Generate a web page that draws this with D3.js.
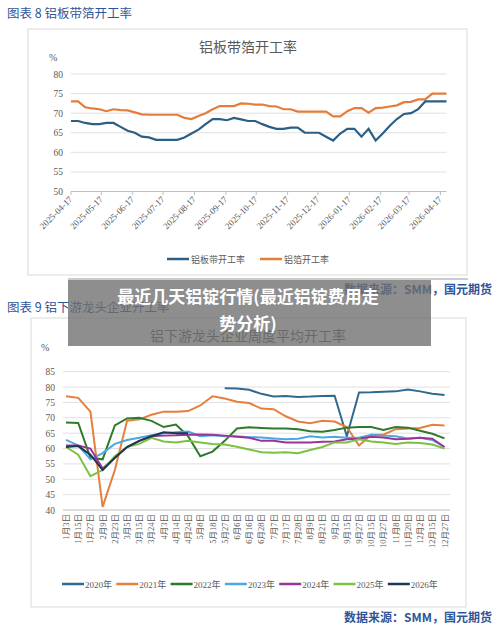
<!DOCTYPE html>
<html><head><meta charset="utf-8">
<script src="https://cdn.jsdelivr.net/npm/d3@7"></script>
<style>body{margin:0;background:#fff}text{font-family:"Liberation Serif","Noto Sans CJK SC",serif}text.sans{font-family:"Noto Sans CJK SC",sans-serif}</style>
</head><body>
<svg id="c" width="500" height="625"></svg>
<script>
// top chart data: weekly from 2025-04-17
var topStart = new Date(2025, 3, 17);
var banDai = [68,68,67.5,67.2,67.2,67.5,67.5,66.5,65.5,65,64,63.8,63.2,63.2,63.2,63.2,63.8,64.8,65.8,67.2,68.5,68.5,68.2,68.8,68.4,68,68,67.2,66.5,66,66,66.3,66.3,65,65,65,64,63,64.8,66,66,64,66,63,64.8,66.8,68.5,69.8,70,71,73,73,73,73];
var boXiang = [73,73,71.5,71.2,71,70.5,71,70.8,70.7,70.2,69.7,69.6,69.6,69.6,69.6,69.6,68.8,68.5,69.3,70,71,71.8,71.8,71.8,72.5,72.4,72.2,72.2,71.8,71.7,71,71,70.4,70.4,70.4,70.4,70.4,69.2,69.2,70.5,71.3,71.3,70.1,71.3,71.4,71.7,72,72.8,72.9,73.5,73.5,75,75,75];
var topTicks = ["2025-04-17","2025-05-17","2025-06-17","2025-07-17","2025-08-17","2025-09-17","2025-10-17","2025-11-17","2025-12-17","2026-01-17","2026-02-17","2026-03-17","2026-04-17"];

// bottom chart
var weeks = ["1月3日","1月15日","1月27日","2月9日","2月23日","3月5日","3月15日","3月24日","4月3日","4月14日","4月24日","5月8日","5月18日","5月27日","6月6日","6月16日","6月28日","7月7日","7月17日","7月28日","8月9日","8月21日","9月2日","9月15日","9月27日","10月15日","10月27日","11月8日","11月20日","12月2日","12月15日","12月27日"];
var N = null;
var y2020 = [N,N,N,N,N,N,N,N,N,N,N,N,N,79.6,79.5,79.1,77.8,76.9,77.1,76.8,76.9,77.1,77.2,64,78.2,78.3,78.5,78.6,79.2,78.6,77.8,77.4];
var y2021 = [77,76.5,72,41,53,69,69.5,71,72,72,72.2,74,77,76.3,75.2,74.8,73,72.8,70.5,68.8,68.2,69,68.8,67,61,64.5,64.5,66.3,66.5,66.7,67.7,67.5];
var y2022 = [68.5,68.3,57,56.5,67.5,69.8,70,69,67,67.8,64,57.5,59,62.5,66.5,66.9,66.7,66.5,66.5,66.3,65.6,65.5,66,66.8,67,67,66,67,66.8,65.8,64.8,63.3];
var y2023 = [62.8,61,56.5,58.5,61.5,62.8,63.5,64.3,65,65.3,65.5,64,64.3,64,64,63.7,63.6,63.3,63,63.2,64,63.6,63.8,63.5,63.5,64.5,64.2,64,63.3,63.5,62.8,60.5];
var y2024 = [61,61,60,53.5,57,60.5,62.5,64,64.2,64.3,64.5,64.6,64.5,64.2,63.8,63.5,62.5,62.5,62,62,62,62.2,62.3,63,63.2,63.8,63.6,63,63.2,63.5,63.2,60.5];
var y2025 = [60.5,58,51,53,57.5,60.5,61.5,63.5,62.3,62,62.5,62,61.5,61.3,60.6,59.7,58.8,58.6,58.8,58.5,59.5,60.5,62,62,63,62.3,62,61.5,62,61.8,61.3,60];
var y2026 = [60.5,60.8,58,53,57,60.5,62.5,64,65.3,65,65,N,N,N,N,N,N,N,N,N,N,N,N,N,N,N,N,N,N,N,N,N];
var years = ["2020年","2021年","2022年","2023年","2024年","2025年","2026年"];
var colors = ["#2e6a8f","#e67e3c","#2e7a2c","#4aa8e2","#9b349a","#7cc242","#1d3652"];
var series = [y2020,y2021,y2022,y2023,y2024,y2025,y2026];

var svg = d3.select("#c");
var blue = "#2f5597";

// ---- top chart ----
svg.append("text").attr("class","sans").attr("x",7).attr("y",18).attr("fill",blue).attr("font-size",12.5).text("图表 8 铝板带箔开工率");
svg.append("rect").attr("x",28).attr("y",29).attr("width",439).attr("height",246).attr("fill","none").attr("stroke","#d9d9d9");
svg.append("text").attr("x",248).attr("y",52).attr("text-anchor","middle").attr("font-size",14).attr("fill","#595959").text("铝板带箔开工率");
svg.append("text").attr("x",49).attr("y",61).attr("font-size",10).attr("fill","#595959").text("%");

var x1 = d3.scaleTime().domain([topStart, d3.timeWeek.offset(topStart, banDai.length-1)]).range([71,446.5]);
var y1 = d3.scaleLinear().domain([50,80]).range([191.5,74]);
var g1 = svg.append("g");
y1.ticks(6).forEach(function(t){
  g1.append("line").attr("x1",71).attr("x2",446.5).attr("y1",y1(t)).attr("y2",y1(t)).attr("stroke",t==50?"#bfbfbf":"#e0e0e0");
  g1.append("text").attr("x",63).attr("y",y1(t)+3.5).attr("text-anchor","end").attr("font-size",9.5).attr("fill","#595959").text(t);
});
topTicks.forEach(function(s){
  var p = s.split("-"), d = new Date(+p[0], +p[1]-1, +p[2]), xx = x1(d);
  g1.append("line").attr("x1",xx).attr("x2",xx).attr("y1",191.5).attr("y2",195).attr("stroke","#bfbfbf");
  g1.append("text").attr("transform","translate("+(xx+2)+",200) rotate(-45)").attr("text-anchor","end").attr("font-size",9).attr("fill","#595959").text(s);
});
var line1 = d3.line().x(function(d,i){return x1(d3.timeWeek.offset(topStart,i));}).y(function(d){return y1(d);});
g1.append("path").datum(boXiang).attr("d",line1).attr("fill","none").attr("stroke","#e47d3a").attr("stroke-width",2.2);
g1.append("path").datum(banDai).attr("d",line1).attr("fill","none").attr("stroke","#2b5f86").attr("stroke-width",2.2);
[["铝板带开工率","#2b5f86",167],["铝箔开工率","#e47d3a",260]].forEach(function(l){
  g1.append("line").attr("x1",l[2]).attr("x2",l[2]+22).attr("y1",259).attr("y2",259).attr("stroke",l[1]).attr("stroke-width",2.5);
  g1.append("text").attr("x",l[2]+24).attr("y",263).attr("font-size",9).attr("fill","#595959").text(l[0]);
});
svg.append("line").attr("x1",68).attr("x2",468).attr("y1",279).attr("y2",279).attr("stroke","#999");
svg.append("text").attr("class","sans").attr("x",492).attr("y",294).attr("text-anchor","end").attr("fill",blue).attr("font-size",12).attr("font-weight","bold").text("数据来源：SMM，国元期货");

// ---- bottom chart ----
svg.append("text").attr("class","sans").attr("x",7).attr("y",312).attr("fill",blue).attr("font-size",12.5).text("图表 9 铝下游龙头企业开工率");
svg.append("rect").attr("x",31).attr("y",318).attr("width",435).attr("height",289).attr("fill","none").attr("stroke","#d9d9d9");
svg.append("text").attr("x",248).attr("y",341).attr("text-anchor","middle").attr("font-size",14).attr("fill","#595959").text("铝下游龙头企业周度平均开工率");
svg.append("text").attr("x",41).attr("y",351).attr("font-size",10).attr("fill","#595959").text("%");

var x2 = d3.scalePoint().domain(weeks).range([66,444.5]);
var y2 = d3.scaleLinear().domain([40,85]).range([510,371.7]);
var g2 = svg.append("g");
d3.range(40,86,5).forEach(function(t){
  g2.append("line").attr("x1",63).attr("x2",450).attr("y1",y2(t)).attr("y2",y2(t)).attr("stroke",t==40?"#bfbfbf":"#e0e0e0");
  g2.append("text").attr("x",55).attr("y",y2(t)+3.5).attr("text-anchor","end").attr("font-size",9.5).attr("fill","#595959").text(t);
});
weeks.forEach(function(w){
  g2.append("text").attr("transform","translate("+(x2(w)+3)+",514) rotate(-90)").attr("text-anchor","end").attr("font-size",8.5).attr("fill","#595959").text(w);
});
var line2 = d3.line().defined(function(d){return d!=null;}).x(function(d,i){return x2(weeks[i]);}).y(function(d){return y2(d);});
series.forEach(function(s,k){
  g2.append("path").datum(s).attr("d",line2).attr("fill","none").attr("stroke",colors[k]).attr("stroke-width",2);
});
years.forEach(function(yr,k){
  var lx = 62 + k*54.3;
  g2.append("line").attr("x1",lx).attr("x2",lx+22).attr("y1",584).attr("y2",584).attr("stroke",colors[k]).attr("stroke-width",2.5);
  g2.append("text").attr("x",lx+23).attr("y",588).attr("font-size",9).attr("fill","#595959").text(yr);
});
svg.append("text").attr("class","sans").attr("x",492).attr("y",622).attr("text-anchor","end").attr("fill",blue).attr("font-size",12).attr("font-weight","bold").text("数据来源：SMM，国元期货");

// overlay banner
svg.append("rect").attr("x",68).attr("y",280).attr("width",363).attr("height",66).attr("fill","rgba(110,110,110,0.78)");
[["最近几天铝锭行情(最近铝锭费用走",303],["势分析)",330]].forEach(function(t){
  svg.append("text").attr("class","sans").attr("x",248).attr("y",t[1]).attr("text-anchor","middle").attr("fill","#fff").attr("font-size",17).attr("font-weight","bold").text(t[0]);
});
</script>
</body></html>
